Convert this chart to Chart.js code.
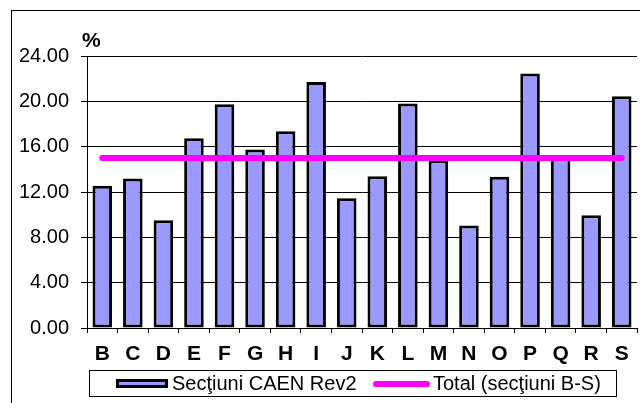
<!DOCTYPE html>
<html>
<head>
<meta charset="utf-8">
<script src="https://cdn.jsdelivr.net/npm/chart.js@4/dist/chart.umd.min.js"></script>
<style>
  html, body { margin:0; padding:0; background:#fff; }
  body { width:640px; height:403px; overflow:hidden; position:relative; font-family:"Liberation Sans", Arial, sans-serif; }
  #wrap { position:absolute; left:0; top:0; width:640px; height:403px; }
  #frame { position:absolute; left:11px; top:10px; width:700px; height:500px; border:1px solid #000; box-sizing:border-box; pointer-events:none; }
  #pct { position:absolute; left:82px; top:28px; font-weight:bold; font-size:21px; color:#000; }
  #legend { position:absolute; left:89px; top:370px; width:528px; height:27px; border:1px solid #000; box-sizing:border-box; background:#fff; font-size:20px; color:#000; }
  .item { position:absolute; top:0; height:25px; line-height:25px; white-space:nowrap; }
  .sw-bar { position:absolute; left:26px; top:8px; width:52px; height:9px; background:#9999FF; border:3px solid #000; box-sizing:border-box; }
  .sw-line { position:absolute; left:283px; top:10px; width:57px; height:6px; background:#FF00FF; border-radius:3px; }
</style>
</head>
<body>
<div id="wrap"><canvas id="c" width="640" height="403"></canvas></div>
<div id="frame"></div>
<div id="pct">%</div>
<div id="legend">
  <div class="sw-bar"></div>
  <div class="item" style="left:82px">Secţiuni CAEN Rev2</div>
  <div class="sw-line"></div>
  <div class="item" style="left:343px">Total (secţiuni B-S)</div>
</div>
<script>
const categories = ["B","C","D","E","F","G","H","I","J","K","L","M","N","O","P","Q","R","S"];
const sectiuniValues = [12.55, 13.2, 9.5, 16.75, 19.75, 15.75, 17.35, 21.7, 11.45, 13.4, 19.8, 14.8, 9.05, 13.35, 22.45, 15.0, 9.95, 20.45];
const totalValues = [15.0, 15.0, 15.0, 15.0, 15.0, 15.0, 15.0, 15.0, 15.0, 15.0, 15.0, 15.0, 15.0, 15.0, 15.0, 15.0, 15.0, 15.0];
const seriesNames = ["Secţiuni CAEN Rev2", "Total (secţiuni B-S)"];
const yTicks = [0, 4, 8, 12, 16, 20, 24];

const FONT = '"Liberation Sans", Arial, sans-serif';

new Chart(document.getElementById('c'), {
  data: {
    labels: categories,
    datasets: [
      {
        type: 'line',
        label: seriesNames[1],
        data: totalValues,
        borderColor: '#FF00FF',
        borderWidth: 6,
        borderCapStyle: 'round',
        pointRadius: 0,
        fill: false,
        order: 0
      },
      {
        type: 'bar',
        label: seriesNames[0],
        data: sectiuniValues,
        backgroundColor: '#9999FF',
        borderColor: '#000000',
        borderWidth: 3,
        borderSkipped: false,
        barPercentage: 0.64,
        categoryPercentage: 1.0,
        order: 1
      }
    ]
  },
  options: {
    responsive: false,
    animation: false,
    devicePixelRatio: 1,
    layout: { padding: { top: 56, right: 3, bottom: 0, left: 0 } },
    plugins: { legend: { display: false }, tooltip: { enabled: false }, title: { display: false } },
    scales: {
      x: {
        type: 'category',
        offset: true,
        grid: { display: true, drawOnChartArea: false, offset: true, tickLength: 5, color: '#000', lineWidth: 1 },
        border: { display: true, color: '#000', width: 1 },
        ticks: { color: '#000', padding: 9, font: { family: FONT, size: 21, weight: 'bold' }, maxRotation: 0, autoSkip: false },
        afterFit: (s) => { s.height = 75; }
      },
      y: {
        min: 0,
        max: 24,
        afterBuildTicks: (s) => { s.ticks = yTicks.map(v => ({ value: v })); },
        grid: { color: '#000', lineWidth: 1, tickLength: 6, drawTicks: true },
        border: { display: true, color: '#000', width: 1 },
        ticks: { color: '#000', padding: 12, font: { family: FONT, size: 20 }, callback: (v) => Number(v).toFixed(2) },
        afterFit: (s) => { s.width = 87; }
      }
    }
  }
});
</script>
</body>
</html>
